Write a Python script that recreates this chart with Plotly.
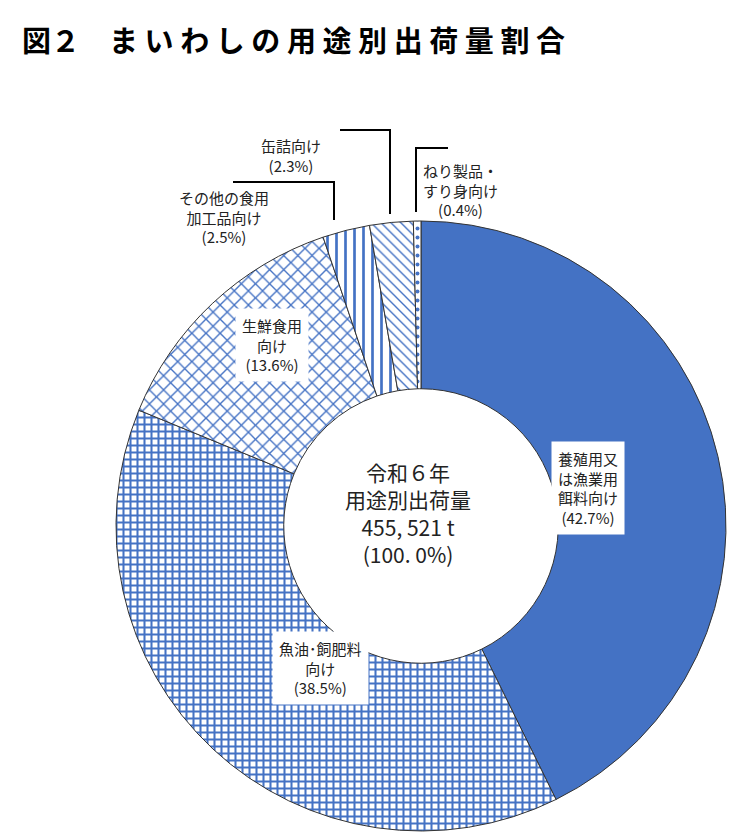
import plotly.graph_objects as go

categories = ["養殖用又は漁業用餌料向け", "魚油・飼肥料向け", "生鮮食用向け",
              "その他の食用加工品向け", "缶詰向け", "ねり製品・すり身向け"]
shares = [42.7, 38.5, 13.6, 2.5, 2.3, 0.4]
patterns = ["", "+", "x", "|", "\\", "."]

W, H = 742, 833
BLUE = "#4472C4"
FONT = "Noto Sans CJK JP"

fig = go.Figure(go.Pie(
    labels=categories, values=shares, sort=False, direction="clockwise",
    rotation=0, hole=0.45, textinfo="none", showlegend=False,
    marker=dict(
        colors=[BLUE] + ["white"] * 5,
        line=dict(color="#333333", width=1),
        pattern=dict(shape=patterns, fgcolor=BLUE, bgcolor="white",
                     size=[8, 7, 10, 9, 7, 9], solidity=[0.3, 0.5, 0.25, 0.3, 0.2, 0.15]),
    ),
    domain=dict(x=[108 / W, 718 / W], y=[1 - 823 / H, 1 - 213 / H]),
))


def px(x, y):
    return x / W, 1 - y / H


def label(x, y, text, box=True, size=15):
    ax, ay = px(x, y)
    fig.add_annotation(x=ax, y=ay, xref="paper", yref="paper", text=text,
                       showarrow=False, font=dict(family=FONT, size=size, color="#222"),
                       bgcolor="white" if box else None, borderpad=6, align="center")


label(264, 337, "生鮮食用<br>向け<br>(13.6%)")
label(617, 480, "養殖用又<br>は漁業用<br>餌料向け<br>(42.7%)")
label(312, 697, "魚油･飼肥料<br>向け<br>(38.5%)")
label(400, 505, "令和６年<br>用途別出荷量<br>455, 521 t<br>(100. 0%)", box=False, size=21)
label(164, 172, "その他の食用<br>加工品向け<br>(2.5%)", box=False)
label(283, 120, "缶詰向け<br>(2.3%)", box=False)
label(497, 145, "ねり製品・<br>すり身向け<br>(0.4%)", box=False)

leaders = [
    [(225, 174), (326, 174), (326, 212)],
    [(332, 122), (382, 122), (382, 206)],
    [(440, 140), (408, 140), (408, 204)],
]
for pts in leaders:
    path = "M " + " L ".join(f"{x / W} {1 - y / H}" for x, y in pts)
    fig.add_shape(type="path", path=path, xref="paper", yref="paper",
                  line=dict(color="black", width=2))

fig.add_annotation(x=12 / W, y=1 - 8 / H, xref="paper", yref="paper",
                   xanchor="left", yanchor="top",
                   text="<b>図２　ま い わ し の 用 途 別 出 荷 量 割 合</b>", showarrow=False,
                   font=dict(family=FONT, size=29, color="black"))

fig.update_layout(width=W, height=H, margin=dict(l=0, r=0, t=0, b=0),
                  paper_bgcolor="white", plot_bgcolor="white")
fig.write_html("out.html")
